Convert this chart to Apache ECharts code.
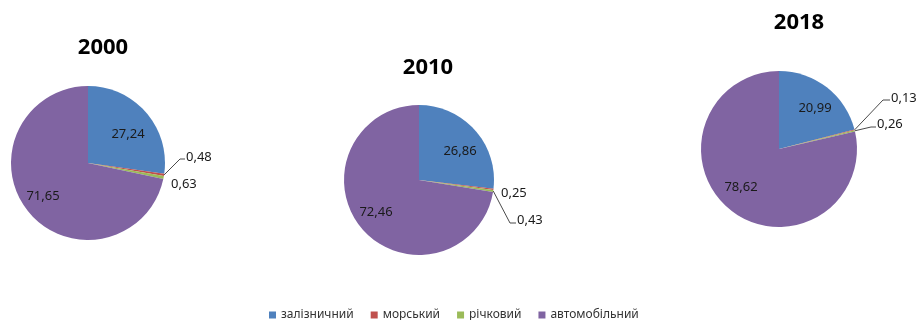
<!DOCTYPE html>
<html>
<head>
<meta charset="utf-8">
<script src="https://cdn.jsdelivr.net/npm/echarts@6/dist/echarts.min.js"></script>
<style>
  html, body { margin: 0; padding: 0; background: #fff; }
  #chart { width: 917px; height: 320px; }
</style>
</head>
<body>
<div id="chart"></div>
<script>
// Freight structure by transport mode, %
const years = ['2000', '2010', '2018'];
const categories = ['залізничний', 'морський', 'річковий', 'автомобільний'];
const share2000 = [27.24, 0.48, 0.63, 71.65];
const share2010 = [26.86, 0.25, 0.43, 72.46];
const share2018 = [20.99, 0.13, 0.26, 78.62];
const shares = [share2000, share2010, share2018];

const colors = ['#4F81BD', '#C0504D', '#9BBB59', '#8064A2'];
const FONT = 'Noto Sans';

// Pie placement
const pieCenters = [[88, 163], [419, 180], [779, 149]];
const pieRadii = [77, 75, 78];
const titleSpots = [[103, 48], [428, 68], [799, 23]];

// Label placement per pie and slice; leader lines where "bend" is given
const labelSpots = [
  [
    { x: 128, y: 134, align: 'center' },
    { x: 186, y: 157, align: 'left', bend: [180, 159], end: [185, 159] },
    { x: 171, y: 184, align: 'left' },
    { x: 43, y: 196, align: 'center' }
  ],
  [
    { x: 460, y: 151, align: 'center' },
    { x: 501, y: 193, align: 'left' },
    { x: 517, y: 220, align: 'left', bend: [510, 223], end: [516, 223] },
    { x: 376, y: 212, align: 'center' }
  ],
  [
    { x: 815, y: 108, align: 'center' },
    { x: 891, y: 98, align: 'left', bend: [883, 100], end: [890, 100] },
    { x: 877, y: 124, align: 'left', bend: [871, 127], end: [876, 127] },
    { x: 741, y: 187, align: 'center' }
  ]
];

const fmt = v => v.toFixed(2).replace('.', ',');

// point on the rim at the middle of a slice (clockwise from 12 o'clock)
function rimPoint(pieIdx, sliceIdx) {
  const vals = shares[pieIdx];
  const total = vals.reduce((a, b) => a + b, 0);
  let before = 0;
  for (let i = 0; i < sliceIdx; i++) before += vals[i];
  const ang = (before + vals[sliceIdx] / 2) / total * Math.PI * 2;
  const c = pieCenters[pieIdx], r = pieRadii[pieIdx];
  return [c[0] + r * Math.sin(ang), c[1] - r * Math.cos(ang)];
}

const series = shares.map((vals, si) => ({
  type: 'pie',
  name: years[si],
  center: pieCenters[si],
  radius: pieRadii[si],
  startAngle: 90,
  clockwise: true,
  avoidLabelOverlap: false,
  animation: false,
  itemStyle: { borderWidth: 0 },
  emphasis: { disabled: true },
  labelLine: { show: false, lineStyle: { color: '#4a4a4a', width: 1 } },
  label: {
    formatter: p => fmt(p.value),
    fontFamily: FONT,
    fontSize: 13,
    color: '#1a1a1a'
  },
  labelLayout: function (params) {
    const spot = labelSpots[si][params.dataIndex];
    const out = { x: spot.x, y: spot.y, align: spot.align, verticalAlign: 'middle', hideOverlap: false, moveOverlap: null };
    if (spot.bend) {
      out.labelLinePoints = [rimPoint(si, params.dataIndex), spot.bend, spot.end];
    }
    return out;
  },
  data: categories.map((name, ci) => {
    const spot = labelSpots[si][ci];
    const small = spot.align === 'left';
    return {
      name: name,
      value: vals[ci],
      label: { position: small ? 'outside' : 'inside' },
      labelLine: { show: !!spot.bend }
    };
  })
}));

const chart = echarts.init(document.getElementById('chart'), null, { renderer: 'canvas' });
chart.setOption({
  animation: false,
  color: colors,
  legend: {
    data: categories,
    left: 264,
    top: 304,
    icon: 'rect',
    itemWidth: 7,
    itemHeight: 7,
    itemGap: 17,
    textStyle: { fontFamily: FONT, fontSize: 12, color: '#333' },
    selectedMode: false
  },
  graphic: titleSpots.map((p, i) => ({
    type: 'text',
    x: p[0],
    y: p[1],
    style: {
      text: years[i],
      fill: '#000',
      font: 'bold 22px "' + FONT + '"',
      textAlign: 'center',
      textVerticalAlign: 'middle'
    }
  })),
  series: series
});
</script>
</body>
</html>
